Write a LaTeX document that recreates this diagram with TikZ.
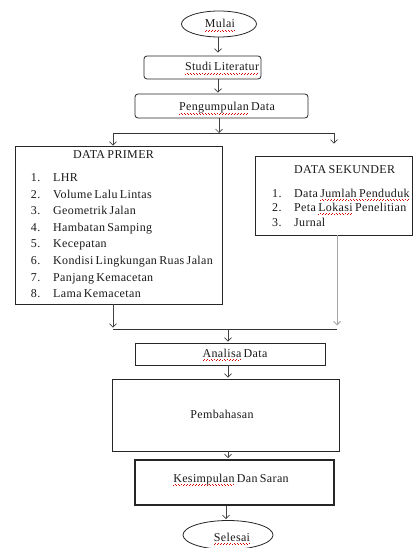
\documentclass[tikz,border=0pt]{standalone}
\usepackage{fontspec}
\setmainfont[LetterSpace=3,WordSpace=0.7]{Liberation Serif}
\usetikzlibrary{arrows.meta,shapes.geometric}
\newsavebox\sqbox
\newcommand\sqg[1]{\sbox\sqbox{#1}\rlap{\usebox\sqbox}\hbox to \wd\sqbox{\color{red!85!black}\xleaders\hbox to 3pt{\rule[-3.2pt]{0.8pt}{0.55pt}\hskip0.7pt\rule[-2.5pt]{0.8pt}{0.55pt}\hfil}\hfill}}
\begin{document}
\begin{tikzpicture}[x=1pt,y=-1pt,
  box/.style={draw=black!85, line width=0.8pt, inner sep=0pt, fill=white},
  rbox/.style={box, rounded corners=3pt},
  ell/.style={draw=black!85, line width=0.8pt, ellipse, inner sep=0pt},
  txt/.style={inner sep=0pt, anchor=base, font=\fontsize{12}{14}\selectfont, text=black!90},
  ltxt/.style={txt, anchor=base west},
  rtxt/.style={txt, anchor=base east},
  arr/.style={draw=black!75, line width=0.7pt, -{Straight Barb[length=3.5pt,width=7pt]}},
  garr/.style={draw=black!35, line width=1pt, -{Straight Barb[length=3.5pt,width=7pt]}},
  conn/.style={draw=black!80, line width=0.8pt}]
\useasboundingbox (0,0) rectangle (413,548);
% shapes
\node[ell, minimum width=75pt, minimum height=26pt] (mulai) at (219,24) {};
\node[rbox, minimum width=117pt, minimum height=23pt] (studi) at (202.5,67.5) {};
\node[rbox, minimum width=173pt, minimum height=24pt] (peng) at (221.5,106) {};
\node[box, minimum width=207pt, minimum height=158pt] (primer) at (118.5,225) {};
\node[box, minimum width=157pt, minimum height=79pt] (sekunder) at (333.5,195.5) {};
\node[box, minimum width=190pt, minimum height=22pt] (analisa) at (230,354) {};
\node[box, minimum width=227pt, minimum height=72pt] (pemb) at (225.5,415) {};
\node[box, line width=1.6pt, minimum width=199pt, minimum height=45pt] (kes) at (234.5,482.5) {};
\node[ell, minimum width=90pt, minimum height=29pt] (sel) at (228,535) {};
% texts
\node[txt] (tmulai) at (220,28) {\sqg{Mulai}};
\node[txt] (tstudi) at (222,71) {\sqg{Studi Literatur}};
\node[txt] (tpeng) at (227,111) {\sqg{Pengumpulan} Data};
\node[txt] (tprimer) at (113.5,158) {DATA PRIMER};
\foreach \n/\t [count=\i from 0] in {1/LHR,2/Volume Lalu Lintas,3/Geometrik Jalan,4/Hambatan Samping,5/Kecepatan,6/Kondisi Lingkungan Ruas Jalan,7/Panjang Kemacetan,8/Lama Kemacetan}{
  \node[rtxt] (pn\n) at (40.5,181.5+16.6*\i) {\n.};
  \node[ltxt] (pt\n) at (53,181.5+16.6*\i) {\t};
}
\node[ltxt] (tsek) at (294,173.5) {DATA SEKUNDER};
\node[ltxt] (sn1) at (272,197) {1.};
\node[ltxt] (st1) at (294,197) {Data \sqg{Jumlah Penduduk}};
\node[ltxt] (sn2) at (272,211.5) {2.};
\node[ltxt] (st2) at (294,211.5) {Peta \sqg{Lokasi} Penelitian};
\node[ltxt] (sn3) at (272,226) {3.};
\node[ltxt] (st3) at (294,226) {Jurnal};
\node[txt] (tana) at (235,357) {\sqg{Analisa} Data};
\node[txt] (tpemb) at (222,418) {Pembahasan};
\node[txt] (tkes) at (231,482) {\sqg{Kesimpulan} Dan Saran};
\node[txt] (tsel) at (232,541) {\sqg{Selesai}};
% helper coordinates
\coordinate (cx) at (218,0);
\coordinate (split) at (219,133);
\coordinate (hl) at (113,133);
\coordinate (hr) at (334,133);
\coordinate (ml) at (113,329);
\coordinate (mr) at (337,329);
\coordinate (mm) at (228,329);
\coordinate (mm2) at (226,0);
% connectors
\draw[arr, shorten >=3pt] (mulai.south -| cx) -- (cx |- studi.north);
\draw[arr, shorten >=1pt] (cx |- studi.south) -- (cx |- peng.north);
\draw[arr] (peng.south -| split) -- (split);
\draw[conn] (hl) -- (hr);
\draw[arr] (hl) -- (hl |- primer.north);
\draw[arr, shorten >=12pt] (hr) -- (hr |- sekunder.north);
\draw[arr, shorten >=1.5pt] (primer.south -| ml) -- (ml);
\draw[garr, shorten >=3.5pt] (sekunder.south -| mr) -- (mr);
\draw[conn] (ml) -- (mr);
\draw[arr, shorten >=1pt] (mm) -- (mm |- analisa.north);
\draw[arr, shorten >=1pt] (analisa.south -| mm) -- (mm |- pemb.north);
\draw[arr, shorten >=1pt] (pemb.south -| mm) -- (mm |- kes.north);
\draw[arr, shorten >=1pt] (kes.south -| mm2) -- (mm2 |- sel.north);
\end{tikzpicture}
\end{document}
